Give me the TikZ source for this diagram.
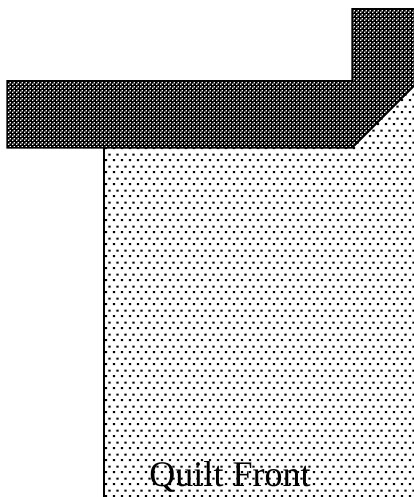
\documentclass[tikz,border=0pt]{standalone}
\usepackage{fontspec}
\setmainfont{Liberation Serif}
\usetikzlibrary{patterns}
\pgfdeclarepatternformonly{lightdots}{\pgfpointorigin}{\pgfpoint{8pt}{12pt}}{\pgfpoint{8pt}{12pt}}{%
  \pgfpathrectangle{\pgfpoint{1pt}{1pt}}{\pgfpoint{2.4pt}{2pt}}%
  \pgfpathrectangle{\pgfpoint{5pt}{7pt}}{\pgfpoint{2.4pt}{2pt}}%
  \pgfusepath{fill}}
\pgfdeclarepatternformonly{darkdots}{\pgfpointorigin}{\pgfpoint{4pt}{4pt}}{\pgfpoint{4pt}{4pt}}{%
  \pgfpathrectangle{\pgfpoint{0pt}{0pt}}{\pgfpoint{1.7pt}{1.7pt}}%
  \pgfpathrectangle{\pgfpoint{2pt}{2pt}}{\pgfpoint{1.7pt}{1.7pt}}%
  \pgfusepath{fill}}
\tikzset{
  front/.style={pattern=lightdots, pattern color=black},
  binding/.style={fill=black},
  bindingdots/.style={pattern=darkdots, pattern color=white},
  edge/.style={draw=black, line width=1.5pt},
  label/.style={font=\fontsize{36}{40}\selectfont, inner sep=0pt, anchor=base}
}
\begin{document}
\begin{tikzpicture}[x=1pt,y=-1pt]
\useasboundingbox (0,0) rectangle (414,497);
% quilt front
\fill[front] (104,84) rectangle (414,497);
\coordinate (fl) at (104,148);
\coordinate (fb) at (104,497);
\draw[edge] (fl) -- (fb);
% binding
\path[binding] (7,81) -- (352,81) -- (352,9) -- (414,9) -- (414,86) -- (352,148) -- (7,148) -- cycle;
\path[bindingdots] (7,81) -- (352,81) -- (352,9) -- (414,9) -- (414,86) -- (352,148) -- (7,148) -- cycle;
\draw[edge] (414,9) -- (352,9) -- (352,81) -- (7,81) -- (7,148) -- (352,148) -- (414,86);
\node[label] (qf) at (230,486) {Quilt Front};
\end{tikzpicture}
\end{document}
